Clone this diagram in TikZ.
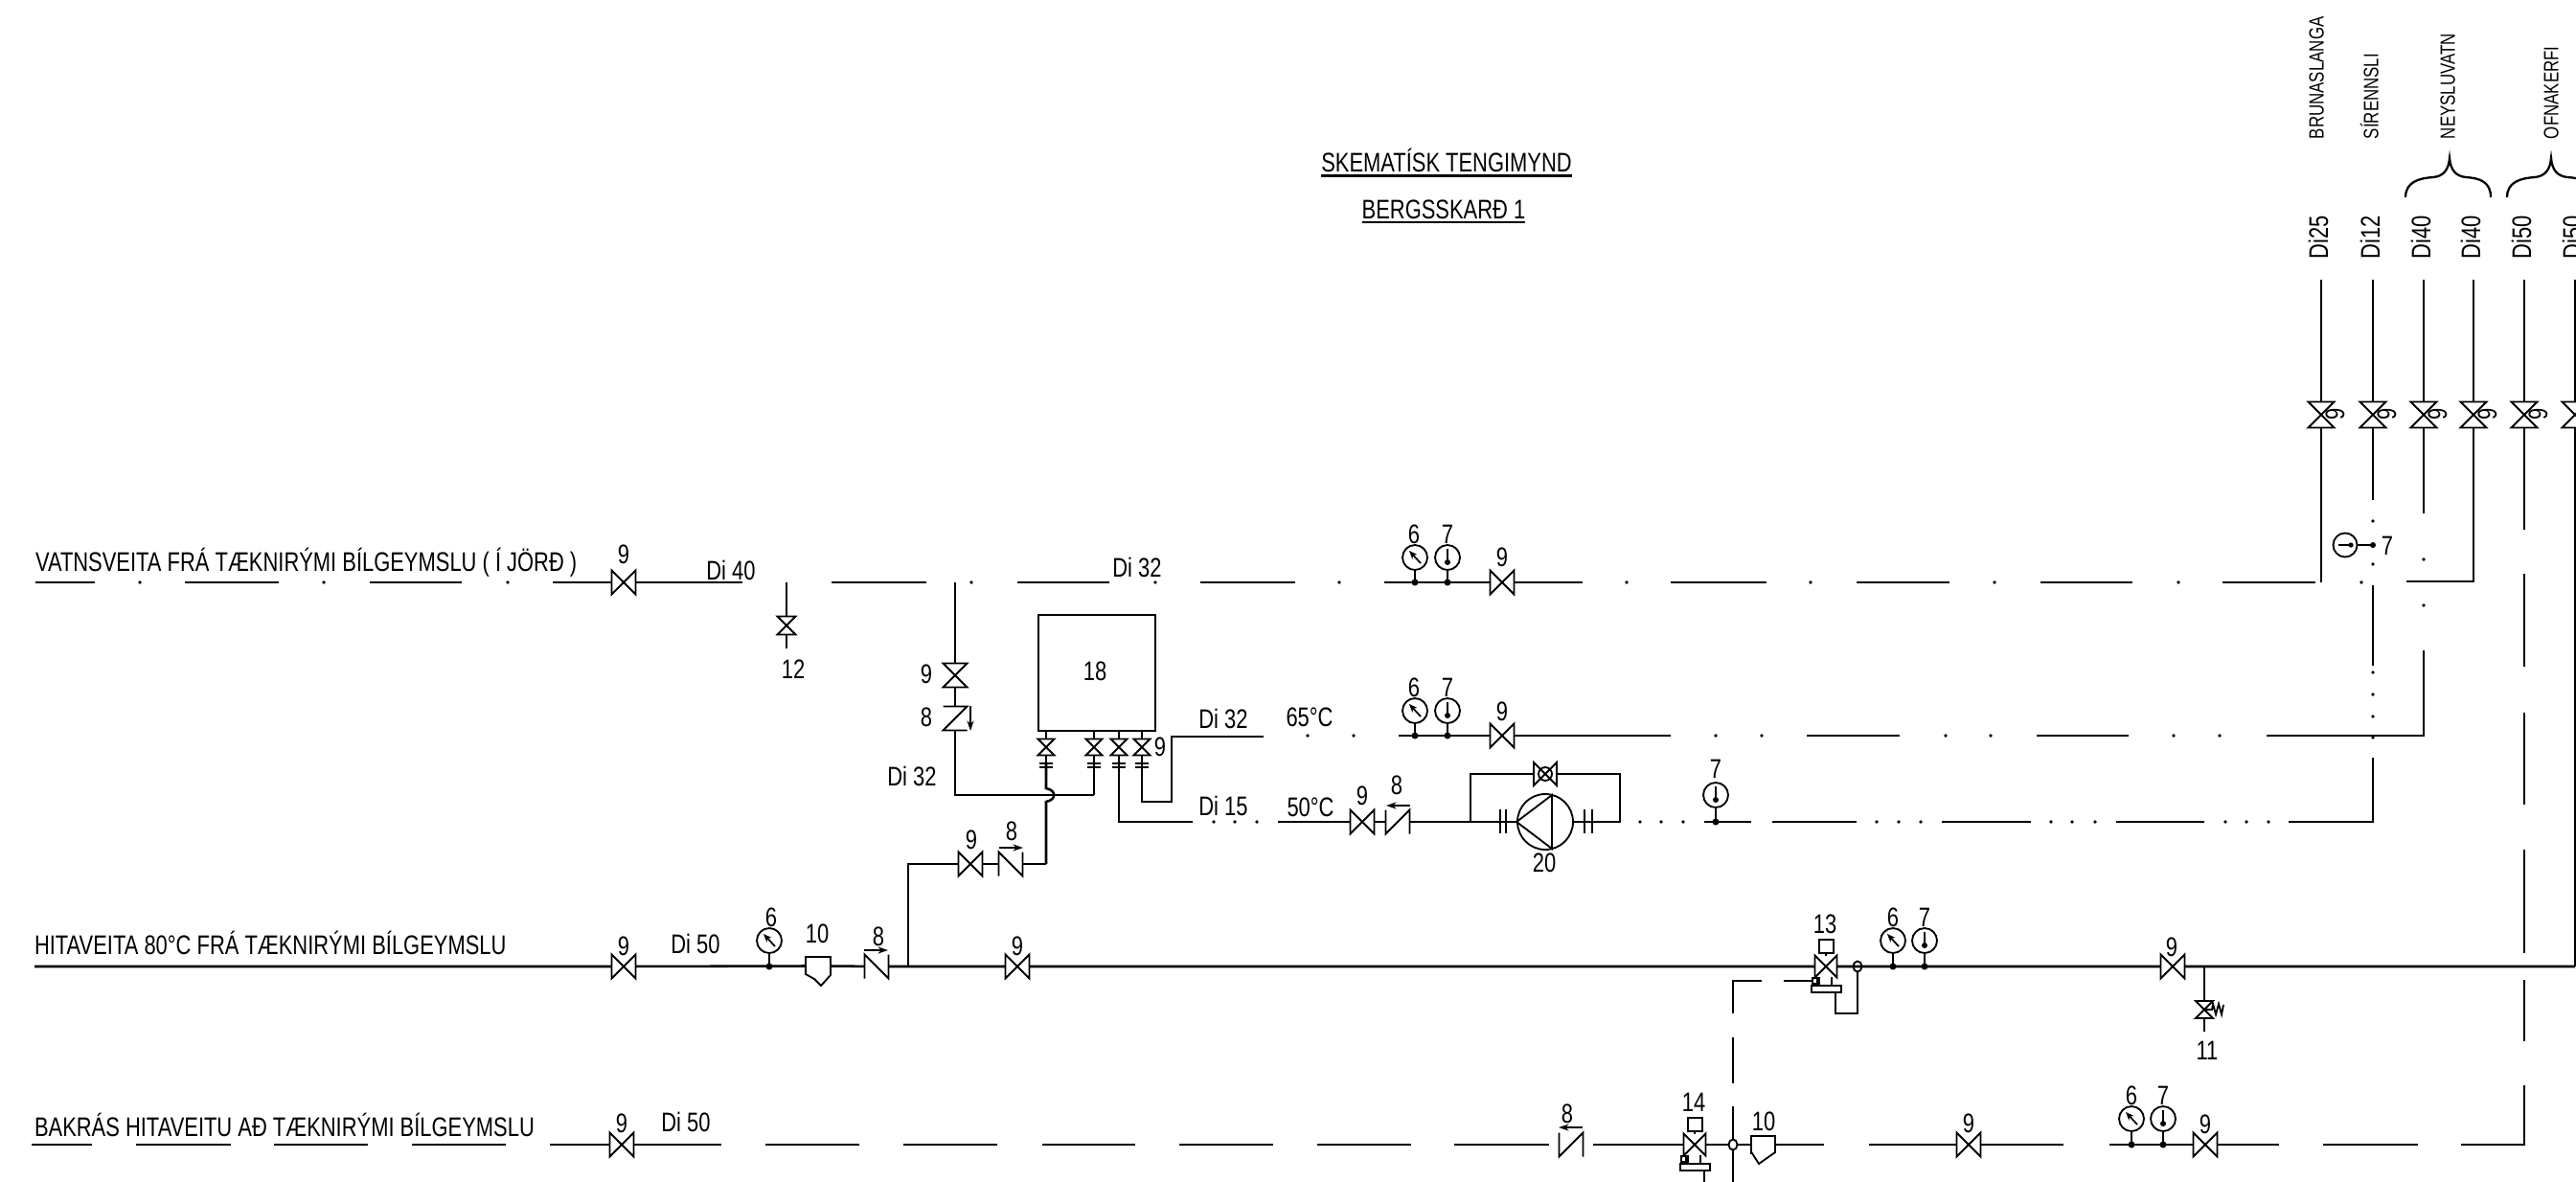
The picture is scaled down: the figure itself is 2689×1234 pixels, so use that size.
\documentclass[tikz,border=0pt]{standalone}
\usepackage{fontspec}
\setmainfont[FakeStretch=0.78]{Liberation Sans}
\usetikzlibrary{arrows.meta,calc}
\newcount\lbln
\tikzset{
  pipe/.style={line width=1.45pt,black},
  thin pipe/.style={line width=1.15pt,black},
  sym/.style={line width=1.05pt,black,line join=miter},
  ghost/.style={inner sep=0pt,outer sep=0pt,shape=rectangle},
  lab/.style={inner sep=0pt,outer sep=0pt,text height=0.40cm,text depth=0pt,font=\fontsize{16}{18}\selectfont},
  smalllab/.style={inner sep=0pt,outer sep=0pt,text height=0.30cm,text depth=0pt,font=\fontsize{12.3}{14}\selectfont},
  gauge/.style={draw,sym,circle,inner sep=0pt,minimum size=0.52cm},
  flow/.style={line width=0.75pt,-{Stealth[open,length=6pt,width=4pt]}},
}
% coordinates are in pixels of the reference
\newcommand\lab[4][]{\global\advance\lbln by 1 \node[lab,#1] (t\the\lbln) at (#2,#3) {#4};}
\newcommand\slab[4][]{\global\advance\lbln by 1 \node[smalllab,#1] (t\the\lbln) at (#2,#3) {#4};}
% valve, flow horizontal: #1 name, #2 x, #3 y, #4 size in cm
\newcommand\VH[4]{\node[ghost,minimum size=#4cm] (#1) at (#2,#3) {};
  \draw[sym] (#1.north west) -- (#1.south east) -- (#1.north east) -- (#1.south west) -- cycle;}
% valve, flow vertical
\newcommand\VV[4]{\node[ghost,minimum size=#4cm] (#1) at (#2,#3) {};
  \draw[sym] (#1.north west) -- (#1.south east) -- (#1.south west) -- (#1.north east) -- cycle;}
% check valves
\newcommand\CVN[3]{\node[ghost,minimum size=0.5cm] (#1) at (#2,#3) {};
  \draw[sym] (#1.south west) -- (#1.north west) -- (#1.south east) -- (#1.north east);}
\newcommand\CVI[3]{\node[ghost,minimum size=0.5cm] (#1) at (#2,#3) {};
  \draw[sym] (#1.north west) -- (#1.south west) -- (#1.north east) -- (#1.south east);}
\newcommand\CVZ[3]{\node[ghost,minimum size=0.5cm] (#1) at (#2,#3) {};
  \draw[sym] (#1.north west) -- (#1.north east) -- (#1.south west) -- (#1.south east);}
% pressure gauge: name, x, pipe y, circle y
\newcommand\PG[4]{\node[gauge] (#1) at (#2,#4) {};
  \coordinate (#1j) at (#2,#3);
  \draw[sym] (#1) -- (#1j);
  \fill (#1j) circle (3.5);
  \draw[line width=1pt,-{Stealth[length=5pt,width=4pt]}] ($(#1)+(6,6)$) -- ($(#1)+(-6,-7)$);}
% thermometer
\newcommand\TG[4]{\node[gauge] (#1) at (#2,#4) {};
  \coordinate (#1j) at (#2,#3);
  \draw[sym] (#1) -- (#1j);
  \fill (#1j) circle (3.5);
  \draw[sym] ($(#1)+(0,-9)$) -- ($(#1)+(0,5)$);
  \fill ($(#1)+(0,5)$) circle (3);}
% actuated valve: name, x, y
\newcommand\ACT[3]{\VH{#1}{#2}{#3}{0.46}
  \draw[sym] (#2-7,#3-28) rectangle (#2+8,#3-14);
  \draw[sym] (#2,#3-14) -- (#2,#3-11);
  \draw[sym] (#2-7,#3+11) -- (#2-7,#3+20) (#2+6,#3+11) -- (#2+6,#3+20);
  \draw[sym] (#2-15,#3+20) rectangle (#2+16,#3+27);
  \draw[sym] (#2-14,#3+12) rectangle (#2-9,#3+18);}
% small valve with flange under the box
\newcommand\BV[2]{\VV{#1}{#2}{780}{0.34}
  \draw[sym] (#2,763) -- (#1);
  \draw[sym] (#2-7,797) -- (#2+7,797) (#2-7,801) -- (#2+7,801);
  \draw[sym] (#1) -- (#2,797);}
\newcommand\hseg[2]{\foreach \a/\b in {#2} {\draw[pipe] (\a,#1) -- (\b,#1);}}
\newcommand\vseg[2]{\foreach \a/\b in {#2} {\draw[pipe] (#1,\a) -- (#1,\b);}}
\newcommand\hdts[2]{\foreach \a in {#2} {\fill (\a,#1) circle (1.9);}}
\newcommand\vdts[2]{\foreach \a in {#2} {\fill (#1,\a) circle (1.9);}}
\begin{document}
\begin{tikzpicture}[x=0.02cm,y=-0.02cm]
\useasboundingbox (0,0) rectangle (2689,1234);
\clip (0,0) rectangle (2689,1234);

% titles
\node[lab] (title) at (1510,169) {SKEMATÍSK TENGIMYND};
\node[lab] (sub) at (1507,218) {BERGSSKARÐ 1};
\draw[pipe] ([yshift=-2.6pt]title.south west) -- ([yshift=-2.6pt]title.south east);
\draw[pipe] ([yshift=-2.4pt]sub.south west) -- ([yshift=-2.4pt]sub.south east);

% row labels
\lab[anchor=west]{37}{586}{VATNSVEITA FRÁ TÆKNIRÝMI BÍLGEYMSLU ( Í JÖRÐ )}
\lab[anchor=west]{36}{986}{HITAVEITA 80°C FRÁ TÆKNIRÝMI BÍLGEYMSLU}
\lab[anchor=west]{36}{1176}{BAKRÁS HITAVEITU AÐ TÆKNIRÝMI BÍLGEYMSLU}

% ---- right-hand risers
\foreach \x/\d in {2423/Di25,2477/Di12,2530/Di40,2582/Di40,2635/Di50,2688/Di50} {
  \lab[rotate=90]{\x-3}{248}{\d}
  \VV{r\x}{\x}{433}{0.54}
  \draw[pipe] (\x,292) -- (r\x);
}
\foreach \x in {2423,2477,2530,2582,2635} {\lab[rotate=90]{\x+14}{432}{9}}
\slab[rotate=90,anchor=west]{2418}{145}{BRUNASLANGA}
\slab[rotate=90,anchor=west]{2475}{145}{SÍRENNSLI}
\slab[rotate=90,anchor=west]{2555}{145}{NEYSLUVATN}
\slab[rotate=90,anchor=west]{2663}{145}{OFNAKERFI}
\draw[line width=1.3pt] (2511,206) .. controls (2511,190) and (2525,186) .. (2540,185) .. controls (2550,184) and (2556,178) .. (2557,165) .. controls (2558,178) and (2564,184) .. (2574,185) .. controls (2589,186) and (2600,190) .. (2600,206);
\draw[line width=1.3pt] (2617,206) .. controls (2617,190) and (2631,186) .. (2646,185) .. controls (2656,184) and (2662,178) .. (2663,165) .. controls (2664,178) and (2670,184) .. (2680,185) .. controls (2695,186) and (2709,190) .. (2709,206);
\coordinate (c1) at (2423,608);
\draw[pipe] (r2423) -- (c1);
\draw[pipe] (r2477) -- (2477,522);
\vdts{2477}{544,589,702,725,748,770}
\vseg{2477}{611/695}
\coordinate (c2) at (2477,858);
\draw[pipe] (2477,791) -- (c2) -- (2389,858);
\node[gauge,minimum size=0.5cm] (g7r) at (2448,569) {};
\coordinate (g7rj) at (2477,569);
\draw[sym] (g7r) -- (g7rj);
\fill (g7rj) circle (3);
\draw[sym] ($(g7r)+(-7,0)$) -- ($(g7r)+(6,0)$);
\fill ($(g7r)+(6,0)$) circle (2.6);
\lab{2492}{569}{7}
\draw[pipe] (r2530) -- (2530,536);
\vdts{2530}{584,632}
\coordinate (c3) at (2530,768);
\draw[pipe] (2530,679) -- (c3) -- (2366,768);
\coordinate (c4) at (2582,607);
\draw[pipe] (r2582) -- (c4) -- (2512,607);
\draw[pipe] (r2635) -- (2635,553);
\vseg{2635}{599/696,744/840,887/995,1023/1087}
\coordinate (c5) at (2635,1195);
\draw[pipe] (2635,1133) -- (c5) -- (2569,1195);
\coordinate (c6) at (2688,1009);
\draw[pipe] (r2688) -- (c6);

% ---- row 1 (cold water)
\hseg{608}{37/99,193/291,386/482,868/967,1062/1158,1253/1352,1744/1844,1938/2035,2130/2226,2320/2417}
\hdts{608}{146,338,530,1014,1206,1398,1698,1890,2082,2274,2465}
\VH{v1}{651}{608}{0.5}
\lab{651}{578}{9}
\draw[pipe] (577,608) -- (v1) (v1) -- (775,608);
\lab{763}{595}{Di 40}
\VV{v12}{821}{653}{0.38}
\coordinate (j12) at (821,608);
\draw[sym] (j12) -- (v12) (v12) -- (821,677);
\lab{828}{698}{12}
\lab{1187}{592}{Di 32}
\PG{p1}{1477}{608}{582}
\TG{t1}{1511}{608}{582}
\lab{1476}{557}{6}\lab{1511}{557}{7}
\VH{v2}{1568}{608}{0.5}
\lab{1568}{581}{9}
\draw[pipe] (1445,608) -- (v2) (v2) -- (1652,608);

% branch from row 1 to the heater
\coordinate (j1) at (997,608);
\VV{v3}{997}{705}{0.5}
\lab{967}{703}{9}
\CVZ{cv3}{997}{750}
\lab{967}{748}{8}
\draw[flow] (1013,737) -- (1013,763);
\draw[pipe] (j1) -- (v3) (v3) -- (cv3);
\coordinate (j2) at (997,830);
\coordinate (j3) at (1142,830);
\draw[pipe] (cv3) -- (j2) -- (j3);
\lab{952}{810}{Di 32}

% heater
\node[draw,pipe,ghost,minimum width=2.44cm,minimum height=2.42cm] (box) at (1145,702.5) {};
\lab{1143}{700}{18}
\BV{b1}{1092}
\BV{b2}{1142}
\BV{b3}{1168}
\BV{b4}{1192}
\lab{1211}{779}{9}
\draw[pipe] (1142,797) -- (j3);
\coordinate (e3) at (1168,858);
\draw[pipe] (1168,797) -- (e3) -- (1245,858);
\coordinate (e4a) at (1192,837);
\coordinate (e4b) at (1223,837);
\coordinate (e4c) at (1223,769);
\draw[pipe] (1192,797) -- (e4a) -- (e4b) -- (e4c) -- (1319,769);
\lab{1277}{750}{Di 32}
\lab{1277}{841}{Di 15}
% hop
\coordinate (k1) at (1092,902);
\draw[pipe] (1092,797) -- (1092,823) .. controls (1103,825) and (1103,835) .. (1092,837) -- (k1);

% 65 deg row
\lab{1367}{748}{65°C}
\hdts{768}{1365,1413,1791,1839,2031,2078,2269,2317}
\PG{p2}{1477}{768}{742}
\TG{t2}{1511}{768}{742}
\lab{1476}{717}{6}\lab{1511}{717}{7}
\VH{v4}{1568}{768}{0.5}
\lab{1568}{742}{9}
\draw[pipe] (1460,768) -- (v4) (v4) -- (1744,768);
\hseg{768}{1886/1983,2126/2222}

% 50 deg row
\hdts{858}{1267,1289,1312,1712,1734,1757,1959,1982,2005,2141,2163,2187,2323,2345,2368}
\lab{1368}{842}{50°C}
\VH{v5}{1422}{858}{0.5}
\lab{1422}{830}{9}
\CVI{cv5}{1459}{858}
\lab{1458}{819}{8}
\draw[flow] (1472,841) -- (1447,841);
\draw[pipe] (1334,858) -- (v5) (v5) -- (cv5);
\coordinate (q1) at (1535,858);
\coordinate (q2) at (1535,808);
\coordinate (q3) at (1691,808);
\coordinate (q4) at (1691,858);
\VH{v6}{1613}{808}{0.48}
\draw[sym] (1613,808) circle (7);
\node[draw,sym,circle,inner sep=0pt,minimum size=1.16cm] (pump) at (1613,858) {};
\draw[sym] (pump.west) -- (1620,830) -- (1620,886) -- cycle;
\draw[pipe] (cv5) -- (q1) -- (q2) -- (v6) (v6) -- (q3) -- (q4) -- (pump.east);
\draw[pipe] (q1) -- (pump.west);
\draw[sym] (1566,845) -- (1566,870) (1572,845) -- (1572,870) (1654,845) -- (1654,870) (1662,845) -- (1662,870);
\lab{1612}{900}{20}
\TG{t3}{1791}{858}{830}
\lab{1791}{802}{7}
\hseg{858}{1779/1828,1850/1938,2027/2120,2209/2301}

% ---- row 3 (hot supply)
\VH{v7}{651}{1009}{0.5}
\lab{651}{987}{9}
\lab{726}{985}{Di 50}
\PG{p3}{803}{1009}{982}
\lab{805}{957}{6}
\node[ghost,minimum width=0.52cm,minimum height=0.38cm] (s1) at (854,1008.5) {};
\draw[sym] (841,999) -- (867,999) -- (867,1018) -- (857,1029) -- (850,1022) -- (841,1017) -- cycle;
\lab{853}{974}{10}
\CVN{cv7}{915}{1009}
\draw[flow] (902,992) -- (927,992);
\lab{917}{977}{8}
\coordinate (k2) at (948,1009);
\VH{v8}{1062}{1009}{0.5}
\lab{1062}{987}{9}
\ACT{v13}{1906}{1009}
\lab{1905}{964}{13}
\PG{p4}{1976}{1009}{982}
\TG{t4}{2009}{1009}{982}
\lab{1976}{957}{6}\lab{2009}{957}{7}
\VH{v9}{2268}{1009}{0.5}
\lab{2267}{988}{9}
\draw[pipe] (36,1009) -- (v7) (v7) -- (s1.west) (s1.east) -- (cv7) (cv7) -- (k2) -- (v8) (v8) -- (v13) (v13) -- (v9) (v9) -- (c6);
\draw[sym] (1939,1009) ellipse (4.5 and 5.5);
\coordinate (m1) at (1916,1036);
\coordinate (m2) at (1916,1058);
\coordinate (m3) at (1939,1058);
\coordinate (m4) at (1939,1014);
\draw[pipe] (m1) -- ++(0,7);
\draw[sym] (m1) -- (m2) -- (m3) -- (m4);
% relief valve 11
\coordinate (j11) at (2301,1009);
\VV{v11}{2301}{1054}{0.36}
\draw[pipe] (j11) -- (v11) (v11) -- (2301,1077);
\draw[sym] (2301,1054) -- (2309,1054) -- (2310,1048) -- (2313,1059) -- (2316,1048) -- (2319,1059) -- (2321,1049);
\lab{2304}{1096}{11}

% branch 80 deg to heater
\VH{v10}{1013}{902}{0.5}
\lab{1014}{876}{9}
\CVN{cv10}{1055}{902}
\draw[flow] (1043,885) -- (1068,885);
\lab{1056}{867}{8}
\coordinate (k3) at (948,902);
\draw[pipe] (k2) -- (k3) -- (v10) (v10) -- (cv10) (cv10) -- (k1);

% ---- control line
\draw[thin pipe] (1862,1024) -- (1892,1024);
\draw[thin pipe] (1839,1024) -- (1809,1024) -- (1809,1058);
\draw[thin pipe] (1809,1083) -- (1809,1131);
\draw[thin pipe] (1809,1155) -- (1809,1234);

% ---- bottom row (return)
\hseg{1195}{33/96,142/241,286/384,430/528,799/897,943/1041,1088/1185,1231/1329,1375/1473,1518/1617,2425/2524}
\VH{v14}{649}{1195}{0.5}
\lab{649}{1172}{9}
\lab{716}{1171}{Di 50}
\draw[pipe] (574,1195) -- (v14) (v14) -- (753,1195);
\CVI{cv14}{1640}{1195}
\draw[flow] (1652,1177) -- (1627,1177);
\lab{1636}{1162}{8}
\ACT{v15}{1769}{1195}
\lab{1768}{1150}{14}
\draw[pipe] (1779,1222) -- (1779,1234);
\node[ghost,minimum width=0.5cm,minimum height=0.34cm] (s2) at (1840,1195) {};
\draw[sym] (1828,1186) -- (1853,1186) -- (1853,1203) -- (1836,1215) -- (1829,1204) -- (1828,1204) -- cycle;
\lab{1841}{1170}{10}
\draw[pipe] (1663,1195) -- (v15) (v15) -- (s2.west) (s2.east) -- (1904,1195);
\filldraw[sym,fill=white] (1809,1195) ellipse (4.5 and 5.5);
\VH{v16}{2055}{1195}{0.5}
\lab{2055}{1172}{9}
\draw[pipe] (1951,1195) -- (v16) (v16) -- (2154,1195);
\PG{p5}{2225}{1195}{1168}
\TG{t5}{2258}{1195}{1168}
\lab{2225}{1143}{6}\lab{2258}{1143}{7}
\VH{v17}{2302}{1195}{0.5}
\lab{2302}{1173}{9}
\draw[pipe] (2202,1195) -- (v17) (v17) -- (2379,1195);
\end{tikzpicture}
\end{document}
